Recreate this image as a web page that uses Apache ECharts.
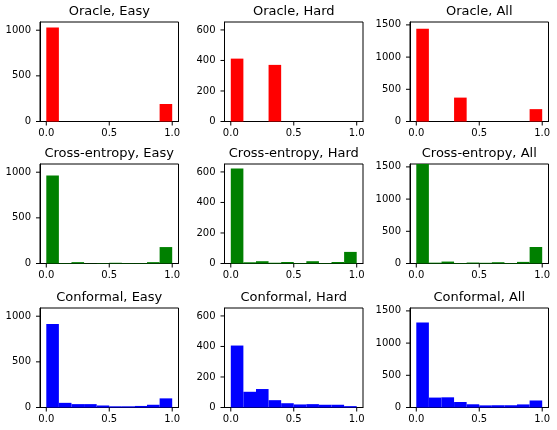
<!DOCTYPE html>
<html>
<head>
<meta charset="utf-8">
<script src="https://cdn.jsdelivr.net/npm/echarts@6/dist/echarts.min.js"></script>
<style>
  html, body { margin: 0; padding: 0; background: #fff; }
  #chart { width: 557px; height: 430px; }
</style>
</head>
<body>
<div id="chart"></div>
<script>
// histogram bin edges (10 bins on [0, 1])
const binEdges = [0, 0.1, 0.2, 0.3, 0.4, 0.5, 0.6, 0.7, 0.8, 0.9, 1.0];

// counts per bin
const oracleEasy = [1030, 0, 0, 0, 0, 0, 0, 0, 0, 192];
const oracleHard = [412, 0, 0, 371, 0, 0, 0, 0, 0, 0];
const oracleAll = [1442, 0, 0, 371, 0, 0, 0, 0, 0, 192];
const ceEasy = [963, 5, 15, 3, 5, 8, 5, 5, 15, 180];
const ceHard = [623, 8, 15, 5, 10, 3, 15, 3, 10, 76];
const ceAll = [1586, 13, 30, 8, 15, 11, 20, 8, 25, 256];
const confEasy = [914, 51, 37, 37, 22, 13, 13, 17, 30, 100];
const confHard = [406, 103, 121, 48, 28, 20, 22, 18, 18, 9];
const confAll = [1320, 154, 158, 85, 50, 33, 35, 35, 48, 109];

const xTicks = [0, 0.5, 1.0];
// y axes are shared per column
const yTicksCol = [[0, 500, 1000], [0, 200, 400, 600], [0, 500, 1000, 1500]];
const yMaxCol = [1090, 652, 1545];
const xMin = -0.05, xMax = 1.05;

const rowNames = ['Oracle', 'Cross-entropy', 'Conformal'];
const colNames = ['Easy', 'Hard', 'All'];
const rowColors = ['#ff0000', '#008000', '#0000ff'];
const panels = [
  [oracleEasy, oracleHard, oracleAll],
  [ceEasy, ceHard, ceAll],
  [confEasy, confHard, confAll]
];

// layout (px)
const colLeft = [40, 224.5, 410];
const rowTop = [22, 164, 308];
const boxW = 138.5;
const boxH = 99.5;
const tickLen = 4;

const font = 'DejaVu Sans';
const lineStyle = { color: '#000', width: 1 };

const grids = [], xAxes = [], yAxes = [], series = [], titles = [];

// outward tick marks, placed through the axes' own scales
function tickSeries(i, data, horizontal) {
  return {
    type: 'custom', xAxisIndex: i, yAxisIndex: i, data: data, clip: false, silent: true,
    renderItem: (params, api) => {
      const p = api.coord([api.value(0), api.value(1)]);
      const shape = horizontal
        ? { x1: p[0] - tickLen, y1: p[1], x2: p[0], y2: p[1] }
        : { x1: p[0], y1: p[1], x2: p[0], y2: p[1] + tickLen };
      return { type: 'line', shape: shape, style: { stroke: '#000', lineWidth: 1 } };
    }
  };
}

panels.forEach((row, r) => {
  row.forEach((counts, c) => {
    const i = r * 3 + c;
    grids.push({
      left: colLeft[c], top: rowTop[r], width: boxW, height: boxH,
      show: true, borderColor: '#000', borderWidth: 1, backgroundColor: 'transparent'
    });
    xAxes.push({
      type: 'value', gridIndex: i, min: xMin, max: xMax,
      splitLine: { show: false },
      axisLine: { show: true, onZero: false, lineStyle: lineStyle },
      axisTick: { show: false },
      axisLabel: {
        customValues: xTicks, color: '#000', fontFamily: font, fontSize: 10, margin: 7,
        formatter: v => v.toFixed(1)
      }
    });
    yAxes.push({
      type: 'value', gridIndex: i, min: 0, max: yMaxCol[c],
      splitLine: { show: false },
      axisLine: { show: true, onZero: false, lineStyle: lineStyle },
      axisTick: { show: false },
      axisLabel: {
        customValues: yTicksCol[c], color: '#000', fontFamily: font, fontSize: 10, margin: 9,
        formatter: v => String(v)
      }
    });
    const data = counts.map((n, b) => [binEdges[b], binEdges[b + 1], n]);
    const color = rowColors[r];
    series.push({
      type: 'custom', xAxisIndex: i, yAxisIndex: i, data: data,
      renderItem: (params, api) => {
        const n = api.value(2);
        if (!n) return null;
        const p0 = api.coord([api.value(0), n]);
        const p1 = api.coord([api.value(1), 0]);
        const rect = echarts.graphic.clipRectByRect(
          { x: p0[0], y: p0[1], width: p1[0] - p0[0], height: p1[1] - p0[1] },
          { x: params.coordSys.x, y: params.coordSys.y, width: params.coordSys.width, height: params.coordSys.height }
        );
        return rect && { type: 'rect', shape: rect, style: { fill: color } };
      }
    });
    series.push(tickSeries(i, xTicks.map(v => [v, 0]), false));
    series.push(tickSeries(i, yTicksCol[c].map(v => [xMin, v]), true));
    titles.push({
      text: rowNames[r] + ', ' + colNames[c],
      left: colLeft[c] + boxW / 2, top: rowTop[r] - 17, textAlign: 'center', padding: 0,
      textStyle: { fontFamily: font, fontSize: 13, fontWeight: 'normal', color: '#000' }
    });
  });
});

const chart = echarts.init(document.getElementById('chart'), null, { renderer: 'canvas' });
chart.setOption({
  animation: false,
  title: titles,
  grid: grids,
  xAxis: xAxes,
  yAxis: yAxes,
  series: series
});
</script>
</body>
</html>
